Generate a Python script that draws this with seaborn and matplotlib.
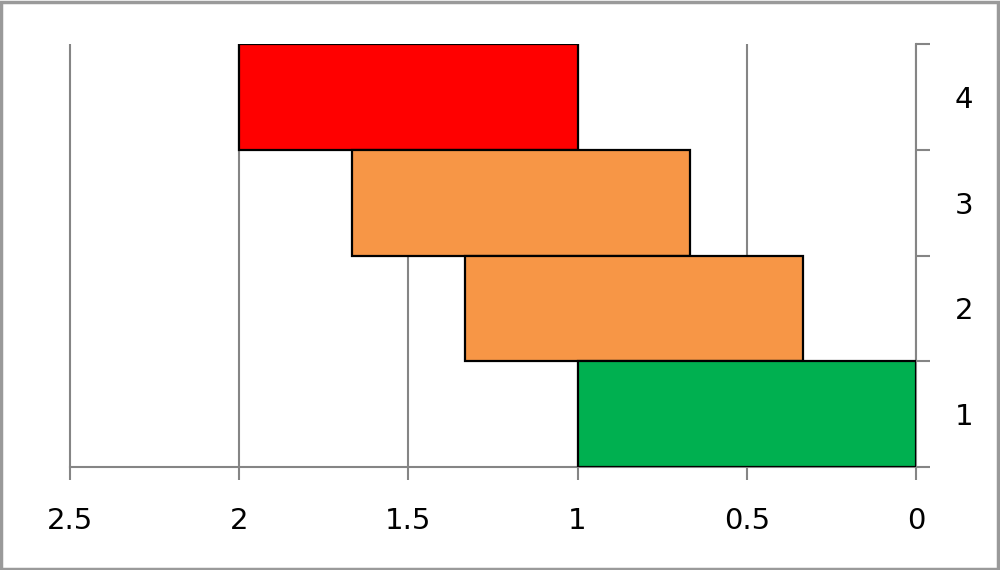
import numpy as np
import pandas as pd
import matplotlib
matplotlib.use("Agg")
import matplotlib.pyplot as plt
import seaborn as sns
from matplotlib.patches import Rectangle

# ==========================================================
# Data - floating bars (start, length) for each level
# ==========================================================
levels = ["4", "3", "2", "1"]
bar_start = [1.0, 0.667, 0.333, 0.0]
bar_length = [1.0, 1.0, 1.0, 1.0]
bar_colors = ["#FF0000", "#F79646", "#F79646", "#00B050"]
x_ticks = [2.5, 2.0, 1.5, 1.0, 0.5, 0.0]
x_tick_labels = ["2.5", "2", "1.5", "1", "0.5", "0"]

df = pd.DataFrame({"level": levels, "start": bar_start, "length": bar_length})

sns.set_style("white")
plt.rcParams["font.family"] = ["DejaVu Sans"]

fig = plt.figure(figsize=(10, 5.7), dpi=100)
ax = fig.add_axes([0.07, 0.1807, 0.846, 0.742])

grid_col = "#858585"

sns.barplot(data=df, x="length", y="level", order=levels, orient="y",
            width=1.0, left=df["start"], color=bar_colors[0],
            edgecolor="black", linewidth=1.6, ax=ax, zorder=3)

for patch, col in zip(ax.patches, bar_colors):
    patch.set_facecolor(col)

# x axis reversed, like the original
ax.set_xlim(2.5, 0)
ax.set_xticks(x_ticks)
ax.set_xticklabels(x_tick_labels)
ax.xaxis.grid(True, color=grid_col, linewidth=1.5, zorder=0)
ax.set_axisbelow(True)
# the outermost gridline sits on the axes edge, keep it whole
ax.get_xgridlines()[0].set_clip_on(False)
ax.get_xgridlines()[0].set_solid_capstyle("butt")

# y axis on the right, ticks at the category edges, labels in the middle
ax.set_ylim(3.5, -0.5)
ax.yaxis.tick_right()
ax.set_yticks(np.arange(-0.5, len(levels), 1.0))
ax.set_yticklabels([])
ax.set_yticks(np.arange(len(levels)), minor=True)
ax.set_yticklabels(levels, minor=True)
ax.tick_params(axis="y", which="major", direction="out", length=10,
               width=1.5, color=grid_col, right=True)
ax.tick_params(axis="y", which="minor", length=0, pad=28, labelsize=21,
               labelcolor="black")
ax.tick_params(axis="x", direction="out", length=9, width=1.5, bottom=True,
               color=grid_col, pad=20, labelsize=21, labelcolor="black")
ax.set_xlabel("")
ax.set_ylabel("")

for side in ["top", "left"]:
    ax.spines[side].set_visible(False)
for side in ["bottom", "right"]:
    ax.spines[side].set_color(grid_col)
    ax.spines[side].set_linewidth(1.5)

# thin grey frame around the whole picture
fig.patches.append(Rectangle((0.001, 0.002), 0.997, 0.995, transform=fig.transFigure,
                             fill=False, edgecolor="#9a9a9a", linewidth=2.5))

fig.savefig("out.png", dpi=100)
